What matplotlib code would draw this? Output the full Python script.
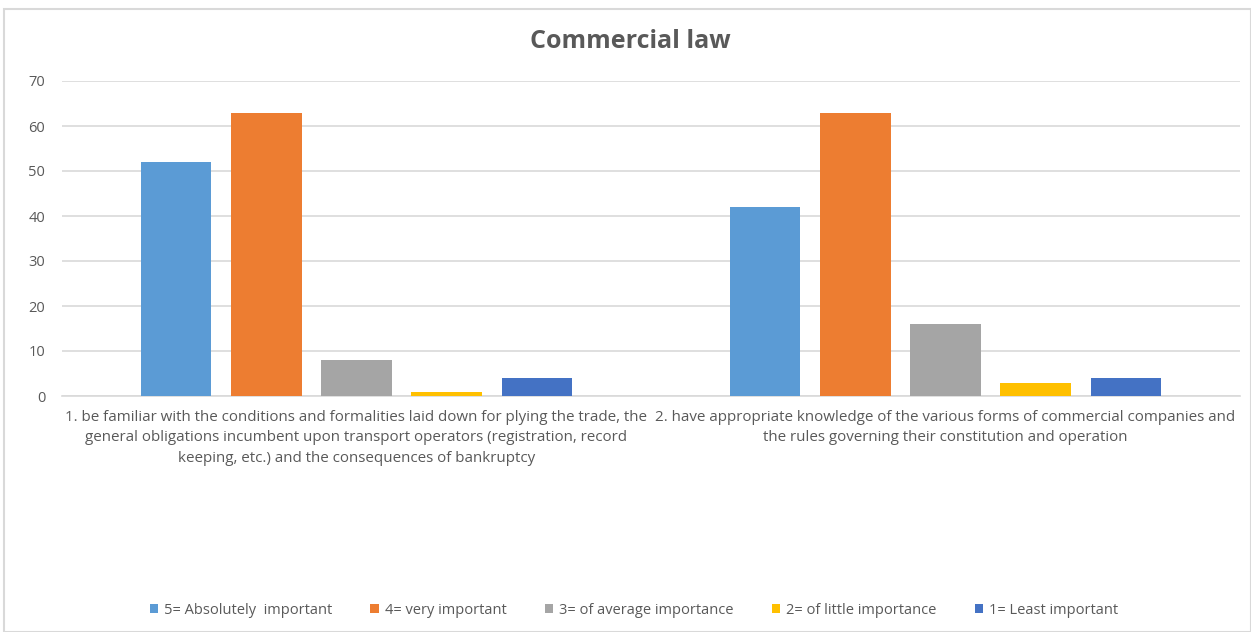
import numpy as np
import matplotlib.pyplot as plt
from matplotlib.patches import Rectangle

plt.rcParams['font.family'] = ['Open Sans', 'DejaVu Sans']

categories = [
    "1. be familiar with the conditions and formalities laid down for plying the trade, the\n"
    "general obligations incumbent upon transport operators (registration, record\n"
    "keeping, etc.) and the consequences of bankruptcy",
    "2. have appropriate knowledge of the various forms of commercial companies and\n"
    "the rules governing their constitution and operation",
]
series_names = ["5= Absolutely  important", "4= very important", "3= of average importance",
                "2= of little importance", "1= Least important"]
values = [
    [52, 42],
    [63, 63],
    [8, 16],
    [1, 3],
    [4, 4],
]
colors = ["#5B9BD5", "#ED7D31", "#A5A5A5", "#FFC000", "#4472C4"]

W, H = 1251, 632
fig = plt.figure(figsize=(W / 100, H / 100), dpi=100)
ax = fig.add_axes([62 / W, (H - 396) / H, (1240 - 62) / W, (396 - 81) / H])

# chart frame
fig.patches.append(Rectangle((4 / W, 0), (W - 4) / W, (H - 9) / H, transform=fig.transFigure,
                             fill=False, edgecolor="#d9d9d9", lw=1.5))

x = np.arange(len(categories))
step = 0.1533
width = 0.12
for i, (name, vals, c) in enumerate(zip(series_names, values, colors)):
    ax.bar(x + (i - 2) * step, vals, width, color=c, label=name, zorder=3)

ax.set_xlim(-0.5, 1.5)
ax.set_ylim(0, 70)
ax.set_yticks(range(0, 71, 10))
ax.yaxis.grid(True, color="#d9d9d9", lw=1.2, zorder=0)
for s in ["top", "right", "left"]:
    ax.spines[s].set_visible(False)
ax.spines["bottom"].set_color("#d9d9d9")
ax.spines["bottom"].set_linewidth(1.2)
ax.tick_params(axis="both", length=0, colors="#595959", labelsize=10.5)
ax.tick_params(axis="y", pad=12)
ax.set_xticks(x)
ax.set_xticklabels(categories, fontsize=10.9, color="#595959", linespacing=1.5)
ax.tick_params(axis="x", pad=10)

fig.text(630 / W, 1 - 42 / H, "Commercial law", ha="center", va="center",
         fontsize=18, fontweight="bold", color="#595959")

fig.legend(loc="center", bbox_to_anchor=(634 / W, 1 - 610 / H), ncol=5, frameon=False,
           fontsize=10.5, labelcolor="#595959", handlelength=0.6, handleheight=0.6,
           handletextpad=0.4, columnspacing=2.6)

fig.savefig("out.png", dpi=100)
